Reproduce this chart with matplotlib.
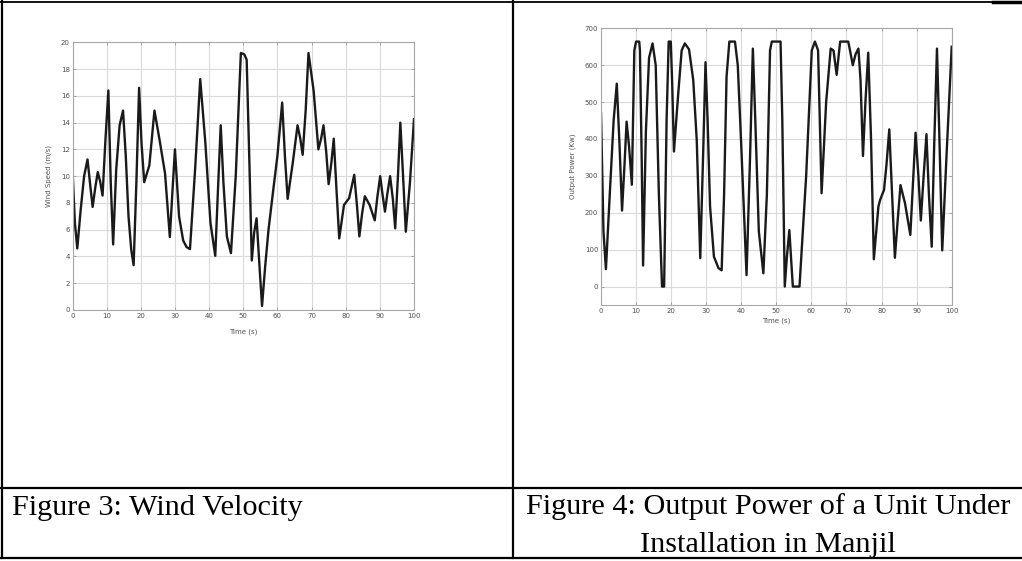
import matplotlib.pyplot as plt
from matplotlib.lines import Line2D

# wind speed
wind_t = [0, 0.7, 1.4, 2.4, 3.4, 4.4, 5.2, 5.9, 6.7, 7.4, 8.1, 8.8, 9.6, 10.5, 11.2, 11.9,
          12.8, 13.8, 14.8, 15.6, 16.4, 17.2, 17.9, 18.7, 19.5, 20.2, 21.0, 22.5, 24.0,
          25.5, 27.1, 28.5, 29.3, 30.0, 31.2, 32.4, 33.4, 34.4, 35.9, 37.4, 38.9, 40.4,
          41.8, 42.6, 43.4, 44.2, 45.2, 46.4, 47.8, 49.3, 50.3, 51.0, 51.8, 52.5, 53.2,
          53.9, 54.7, 55.5, 56.4, 57.4, 58.8, 60.0, 61.4, 62.2, 63.0, 64.5, 65.9, 66.7,
          67.4, 68.3, 69.1, 70.6, 72.0, 72.8, 73.5, 74.3, 75.0, 75.8, 76.5, 77.3, 78.1,
          79.5, 81.0, 82.5, 83.3, 84.0, 84.8, 85.6, 87.0, 88.5, 89.3, 90.1, 90.8, 91.5,
          92.2, 93.0, 93.8, 94.5, 95.3, 96.0, 96.8, 97.6, 98.8, 100]
wind_v = [10.5, 6.5, 4.6, 7.5, 10.0, 11.25, 9.3, 7.7, 9.2, 10.3, 9.6, 8.55, 12.5, 16.4, 9.5, 4.9,
          10.5, 13.8, 14.9, 11.5, 7.0, 4.5, 3.35, 9.5, 16.6, 12.5, 9.55, 10.8, 14.9,
          12.7, 10.2, 5.45, 9.0, 12.0, 7.0, 5.2, 4.7, 4.55, 10.5, 17.25, 12.5, 6.5,
          4.05, 9.0, 13.8, 9.5, 5.5, 4.25, 10.0, 19.2, 19.1, 18.7, 11.0, 3.7, 5.8,
          6.85, 3.5, 0.3, 3.2, 6.0, 9.0, 11.5, 15.5, 11.5, 8.3, 11.0, 13.8, 12.8,
          11.6, 15.0, 19.2, 16.4, 12.0, 12.8, 13.8, 11.8, 9.4, 11.0, 12.8, 9.0, 5.35,
          7.85, 8.35, 10.1, 7.8, 5.5, 7.2, 8.5, 7.85, 6.7, 8.5, 10.0, 8.6, 7.35,
          8.7, 10.0, 8.3, 6.1, 10.0, 14.0, 10.0, 5.85, 9.5, 14.25]

# output power
power_t = [0, 0.7, 1.4, 2.5, 3.6, 4.5, 5.3, 6.0, 6.7, 7.3, 8.0, 8.8, 9.5, 10.0, 10.9,
           11.1, 11.6, 12.0, 12.8, 13.7, 14.7, 15.6, 16.5, 17.4, 18.0, 18.7, 19.3, 19.9,
           20.3, 20.8, 22.0, 23.0, 23.9, 25.1, 26.3, 27.3, 28.3, 29.1, 29.8, 30.4, 31.1,
           32.2, 33.5, 34.4, 35.1, 35.8, 36.6, 38.2, 39.0, 40.0, 41.5, 42.5, 43.3, 44.0,
           45.0, 46.3, 47.3, 48.2, 48.7, 51.2, 51.7, 52.4, 53.0, 53.7, 54.7, 56.6, 58.5,
           60.1, 61.0, 61.9, 62.9, 64.2, 65.5, 66.3, 67.2, 67.7, 68.2, 70.5, 71.0, 71.8,
           72.6, 73.4, 74.0, 74.7, 75.4, 76.2, 77.0, 77.8, 79.1, 79.6, 80.7, 81.4, 82.2,
           83.0, 83.8, 84.6, 85.4, 86.7, 88.2, 89.7, 90.5, 91.2, 92.0, 92.8, 93.5, 94.3,
           95.0, 95.8, 96.5, 97.3, 98.5, 100]
power_p = [470, 150, 47, 250, 450, 550, 380, 206, 330, 447, 380, 276, 640, 664, 664,
           640, 350, 57, 420, 620, 659, 600, 250, 0, 0, 450, 664, 664,
           550, 366, 520, 640, 659, 643, 560, 397, 77, 350, 608, 450, 217,
           81, 50, 44, 250, 569, 664, 664, 600, 380, 31, 350, 645, 450,
           150, 36, 250, 640, 664, 664, 450, 0, 80, 153, 0, 0, 300,
           640, 664, 640, 253, 500, 645, 640, 574, 620, 664, 664, 640, 600,
           630, 645, 560, 354, 500, 634, 400, 74, 217, 235, 262, 330, 426,
           250, 78, 180, 275, 225, 140, 417, 300, 179, 300, 413, 250, 108,
           380, 645, 400, 98, 350, 650]

fig = plt.figure(figsize=(10.22, 5.61), dpi=100)
W, H = 1022.0, 561.0

gray = '#8c8c8c'
txt = '#505050'


def style(ax):
    ax.grid(True, color='#dadada', linewidth=0.8)
    ax.set_axisbelow(True)
    for s in ax.spines.values():
        s.set_color('#a8a8a8')
        s.set_linewidth(0.8)
    ax.tick_params(direction='in', top=True, right=True, length=2.5, width=0.5,
                   color=gray, labelcolor=txt, labelsize=5, pad=2)


ax1 = fig.add_axes([72.5 / W, 1 - 310 / H, 341.5 / W, 267.7 / H])
ax1.plot(wind_t, wind_v, color='#1a1a1a', linewidth=1.7, solid_joinstyle='round')
ax1.set_xlim(0, 100)
ax1.set_ylim(0, 20)
ax1.set_xticks(range(0, 101, 10))
ax1.set_yticks(range(0, 21, 2))
style(ax1)
ax1.set_xlabel('Time (s)', fontsize=5, color=txt, labelpad=7)
ax1.set_ylabel('Wind Speed (m/s)', fontsize=5, color=txt, labelpad=6)

ax2 = fig.add_axes([601 / W, 1 - 305 / H, 350.7 / W, 276.7 / H])
ax2.plot(power_t, power_p, color='#1a1a1a', linewidth=1.7, solid_joinstyle='round')
ax2.set_xlim(0, 100)
ax2.set_ylim(-50, 700)
ax2.set_xticks(range(0, 101, 10))
ax2.set_yticks(range(0, 701, 100))
style(ax2)
ax2.set_xlabel('Time (s)', fontsize=5, color=txt, labelpad=3)
ax2.set_ylabel('Output Power (Kw)', fontsize=5, color=txt, labelpad=6)


def hline(y, x0, x1, lw):
    fig.add_artist(Line2D([x0 / W, x1 / W], [1 - y / H, 1 - y / H], color='black',
                          linewidth=lw, transform=fig.transFigure))


def vline(x, y0, y1, lw):
    fig.add_artist(Line2D([x / W, x / W], [1 - y0 / H, 1 - y1 / H], color='black',
                          linewidth=lw, transform=fig.transFigure))


# table borders
hline(1.5, 0, 1022, 1.3)
hline(1.5, 993, 1022, 2.5)
hline(488, 0, 1022, 1.6)
hline(558, 0, 1022, 1.6)
vline(1.5, 0, 558, 1.6)
vline(513, 0, 558, 1.6)

cap = dict(family='Liberation Serif', fontsize=21.8, color='black', va='baseline')
fig.text(12 / W, 1 - 515 / H, 'Figure 3: Wind Velocity', ha='left', **cap)
fig.text(768 / W, 1 - 514 / H, 'Figure 4: Output Power of a Unit Under', ha='center', **cap)
fig.text(768 / W, 1 - 552 / H, 'Installation in Manjil', ha='center', **cap)

fig.savefig('out.png', dpi=100)
